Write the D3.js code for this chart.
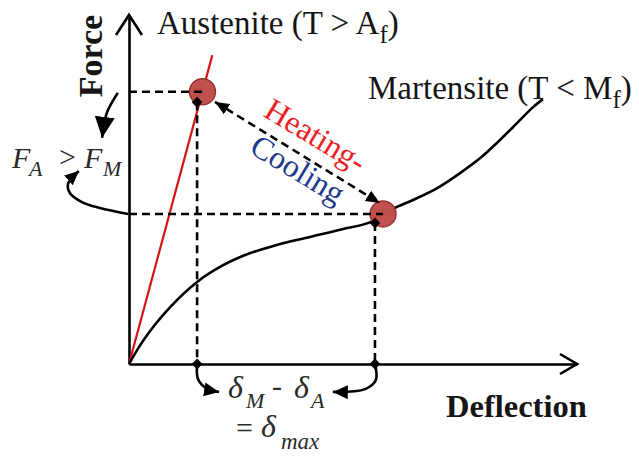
<!DOCTYPE html>
<html>
<head>
<meta charset="utf-8">
<script src="https://cdn.jsdelivr.net/npm/d3@7"></script>
<style>
  html, body { margin: 0; padding: 0; background: #fff; }
  svg { display: block; }
  text { font-family: "Liberation Serif", "Times New Roman", serif; }
</style>
</head>
<body>
<script>
// Martensite force–deflection curve (T < Mf)
const martDeflection = [0, 0.25, 0.54, 0.92, 1.52, 2.03, 2.55, 3.3, 4.04, 4.78, 5.45, 5.67, 5.89, 6.34, 6.88, 7.39, 7.84, 8.28, 8.66, 9.02, 9.24];
const martForce      = [0, 0.54, 1.06, 1.63, 2.35, 2.78, 3.1, 3.41, 3.64, 3.87, 4.1, 4.27, 4.44, 4.7, 5.04, 5.47, 5.9, 6.42, 6.9, 7.36, 7.59];

// Austenite line (T > Af)
const ausDeflection = [0, 1.86];
const ausForce      = [0, 8.85];

// Operating points: A (austenite) and M (martensite)
const stateNames      = ["A", "M"];
const stateDeflection = [1.64, 5.67];
const stateForce      = [7.8, 4.3];

// Deflections δA, δM and where their guide lines stop
const deltaNames     = ["δA", "δM"];
const deltaValues    = [1.52, 5.49];
const deltaTopForce  = [7.5, 4.04];

// Heating / cooling double arrow
const hcDeflection = [1.92, 5.6];
const hcForce      = [7.51, 4.61];

// Curved pointer arrows (deflection, force)
const arrowFAx = [-0.25, -0.4, -0.51, -0.6];
const arrowFAy = [7.77, 7.45, 7.14, 6.48];
const arrowFMx = [-0.02, -0.65, -1.05, -1.32, -1.36, -1.12];
const arrowFMy = [4.3, 4.47, 4.64, 4.9, 5.16, 5.53];
const arrowDAx = [1.52, 1.54, 1.72, 2.01];
const arrowDAy = [0, -0.43, -0.69, -0.8];
const arrowDMx = [5.49, 5.51, 5.27, 4.55];
const arrowDMy = [0, -0.46, -0.72, -0.8];

const W = 639, H = 456;
const svg = d3.select("body").append("svg").attr("width", W).attr("height", H);
svg.append("rect").attr("width", W).attr("height", H).attr("fill", "#fff");

const x = d3.scaleLinear().domain([0, 10]).range([129, 577]);
const y = d3.scaleLinear().domain([0, 10]).range([364, 15]);

const defs = svg.append("defs");
function arrowMarker(id, len, half, orient) {
  defs.append("marker")
    .attr("id", id)
    .attr("markerUnits", "userSpaceOnUse")
    .attr("viewBox", `0 ${-half - 1} ${len + 1} ${2 * half + 2}`)
    .attr("markerWidth", len + 1)
    .attr("markerHeight", 2 * half + 2)
    .attr("refX", len).attr("refY", 0)
    .attr("orient", orient || "auto")
    .append("path")
    .attr("d", `M0,${-half}L${len},0L0,${half}Z`)
    .attr("fill", "#000");
}
arrowMarker("headBig", 21, 10);
arrowMarker("headMid", 15, 7);
arrowMarker("headSmall", 14, 6.5);
arrowMarker("headHC", 14, 6);
arrowMarker("headHCstart", 14, 6, "auto-start-reverse");

const zip = (a, b) => a.map((v, i) => [v, b[i]]);
const line = d3.line().x(d => x(d[0])).y(d => y(d[1]));

// Axes
const xAxis = svg.append("g").attr("transform", `translate(0,${y(0)})`)
  .call(d3.axisBottom(x).tickValues([]).tickSizeOuter(0));
const yAxis = svg.append("g").attr("transform", `translate(${x(0)},0)`)
  .call(d3.axisLeft(y).tickValues([]).tickSizeOuter(0));
[xAxis, yAxis].forEach(g => g.select(".domain").attr("stroke", "#000").attr("stroke-width", 2.6));

svg.append("path")
  .attr("d", `M${x(10) - 17},${y(0) - 10}L${x(10)},${y(0)}L${x(10) - 17},${y(0) + 10}`)
  .attr("fill", "none").attr("stroke", "#000").attr("stroke-width", 2.6);
svg.append("path")
  .attr("d", `M${x(0) - 13},${y(10) + 20}L${x(0)},${y(10)}L${x(0) + 13},${y(10) + 20}`)
  .attr("fill", "none").attr("stroke", "#000").attr("stroke-width", 2.6);

// Austenite line
svg.append("path")
  .attr("d", line(zip(ausDeflection, ausForce)))
  .attr("fill", "none").attr("stroke", "#d41414").attr("stroke-width", 2.2);

// Martensite curve
svg.append("path")
  .attr("d", line.curve(d3.curveMonotoneX)(zip(martDeflection, martForce)))
  .attr("fill", "none").attr("stroke", "#000").attr("stroke-width", 2.6);
line.curve(d3.curveLinear);

// Operating points
svg.selectAll("circle.state").data(stateNames).join("circle")
  .attr("class", "state")
  .attr("cx", (d, i) => x(stateDeflection[i]))
  .attr("cy", (d, i) => y(stateForce[i]))
  .attr("r", 13)
  .attr("fill", "#c0504d").attr("stroke", "#96302d").attr("stroke-width", 1.4);

const dash = "8,5";
// Horizontal force guides
stateNames.forEach((n, i) => {
  svg.append("path")
    .attr("d", line([[0, stateForce[i]], [stateDeflection[i], stateForce[i]]]))
    .attr("stroke", "#000").attr("stroke-width", 2.6).attr("stroke-dasharray", dash);
});
// Vertical deflection guides
deltaNames.forEach((n, i) => {
  svg.append("path")
    .attr("d", line([[deltaValues[i], deltaTopForce[i]], [deltaValues[i], 0]]))
    .attr("stroke", "#000").attr("stroke-width", 2.6).attr("stroke-dasharray", dash);
});

// Diamond markers
const diamond = d3.symbol().type(d3.symbolSquare).size(58);
const diamonds = [];
deltaValues.forEach((v, i) => { diamonds.push([v, deltaTopForce[i]]); diamonds.push([v, 0]); });
svg.selectAll("path.dia").data(diamonds).join("path")
  .attr("class", "dia")
  .attr("d", diamond)
  .attr("transform", d => `translate(${x(d[0])},${y(d[1])}) rotate(45)`)
  .attr("fill", "#000");

// Heating / cooling arrow
svg.append("path")
  .attr("d", line(zip(hcDeflection, hcForce)))
  .attr("fill", "none").attr("stroke", "#000").attr("stroke-width", 2.6)
  .attr("stroke-dasharray", dash)
  .attr("marker-start", "url(#headHCstart)")
  .attr("marker-end", "url(#headHC)");

// Curved pointers
const curved = d3.line().x(d => x(d[0])).y(d => y(d[1])).curve(d3.curveCatmullRom.alpha(0.5));
[[arrowFAx, arrowFAy, "headBig"], [arrowFMx, arrowFMy, "headSmall"],
 [arrowDAx, arrowDAy, "headMid"], [arrowDMx, arrowDMy, "headMid"]].forEach(([ax, ay, m]) => {
  svg.append("path")
    .attr("d", curved(zip(ax, ay)))
    .attr("fill", "none").attr("stroke", "#000").attr("stroke-width", 2.6)
    .attr("marker-end", `url(#${m})`);
});

// Labels
const ink = "#151515";
const aus = svg.append("text").attr("x", 157).attr("y", 34).attr("font-size", 33).attr("fill", ink);
aus.append("tspan").text("Austenite (T > A");
aus.append("tspan").attr("font-size", 25).attr("dy", 9).text("f");
aus.append("tspan").attr("dy", -9).text(")");

const mar = svg.append("text").attr("x", 368).attr("y", 99).attr("font-size", 33).attr("fill", ink);
mar.append("tspan").text("Martensite (T < M");
mar.append("tspan").attr("font-size", 25).attr("dy", 9).text("f");
mar.append("tspan").attr("dy", -9).text(")");

svg.append("text")
  .attr("transform", "translate(102,56) rotate(-90)")
  .attr("text-anchor", "middle")
  .attr("font-size", 34).attr("font-weight", "bold").attr("fill", ink)
  .text("Force");

svg.append("text")
  .attr("x", 446).attr("y", 417)
  .attr("font-size", 32.5).attr("font-weight", "bold").attr("fill", ink)
  .text("Deflection");

svg.append("text")
  .attr("transform", "translate(316,135) rotate(31)")
  .attr("text-anchor", "middle").attr("dy", "0.35em")
  .attr("font-size", 32).attr("fill", "#ee1d24")
  .text("Heating-");
svg.append("text")
  .attr("transform", "translate(298,169) rotate(31)")
  .attr("text-anchor", "middle").attr("dy", "0.35em")
  .attr("font-size", 32).attr("fill", "#1e3a8c")
  .text("Cooling");

// Math annotations, placed piece by piece
const mathInk = "#2a2a2a";
function piece(txt, px, py, size, italic) {
  svg.append("text").attr("x", px).attr("y", py)
    .attr("font-size", size).attr("fill", mathInk)
    .attr("font-style", italic ? "italic" : "normal")
    .text(txt);
}
// F_A > F_M
piece("F", 12, 168, 30, true);
piece("A", 29, 176, 22, true);
piece(">", 59, 167, 30, false);
piece("F", 84, 168, 30, true);
piece("M", 103, 176, 22, true);
// δ_M - δ_A = δ_max
piece("δ", 228, 398, 32, true);
piece("M", 246, 408, 22, true);
piece("-", 272, 396, 30, false);
piece("δ", 294, 398, 32, true);
piece("A", 311, 408, 22, true);
piece("=", 236, 438, 30, false);
piece("δ", 261, 437, 32, true);
piece("max", 281, 449, 23, true);
</script>
</body>
</html>
